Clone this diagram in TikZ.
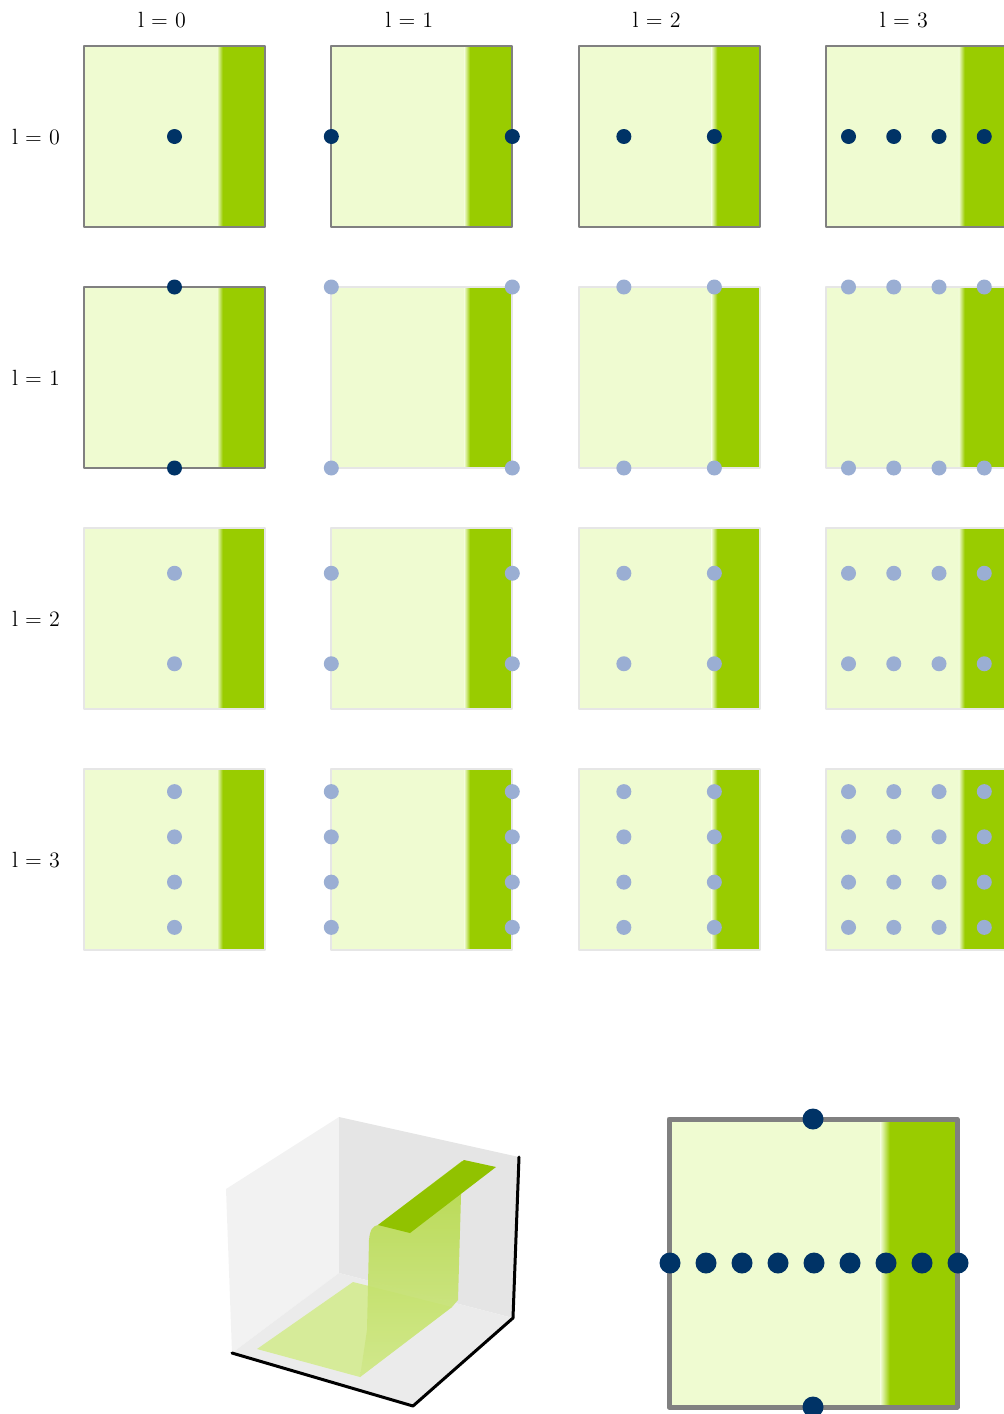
\documentclass[tikz,border=0pt]{standalone}
\definecolor{leafpale}{RGB}{239,251,209}
\definecolor{leafgreen}{RGB}{153,204,0}
\definecolor{navy}{RGB}{0,51,102}
\definecolor{haze}{RGB}{154,174,211}
\definecolor{rimdark}{RGB}{128,128,128}
\definecolor{rimpale}{RGB}{230,230,230}
\colorlet{rimcol}{rimdark}
\colorlet{ptcol}{navy}
% pale field with the green band on its right
\newcommand\leafsquare[3]{%
  \fill[leafpale] (#1,#2) rectangle ++(#3,#3);
  \fill[leafgreen] (#1+0.765*#3,#2) rectangle (#1+#3,#2+#3);
  \shade[left color=leafpale,right color=leafgreen] (#1+0.735*#3,#2) rectangle (#1+0.766*#3,#2+#3);
}
\begin{document}
\begin{tikzpicture}[x=0.5pt,y=-0.5pt,font=\fontsize{11}{13}\selectfont,line join=round,line cap=round,
  cellrim/.style={draw=rimcol,line width=1pt},
  gridpt/.style={fill=ptcol},
  bigpt/.style={fill=navy}]
\useasboundingbox (0,0) rectangle (1003,1414);
\foreach \k in {0,...,3}{
  \node (coll\k) at (162+247.3*\k,20) {l = \k};
  \node (rowl\k) at (36,137+241*\k) {l = \k};
}
\foreach \r/\ys in {0/{0.5},1/{0,1},2/{0.25,0.75},3/{0.125,0.375,0.625,0.875}}
\foreach \c/\xs in {0/{0.5},1/{0,1},2/{0.25,0.75},3/{0.125,0.375,0.625,0.875}}{
  \pgfmathsetmacro\sx{84+247.3*\c}
  \pgfmathsetmacro\sy{46+241*\r}
  \pgfmathtruncatemacro\hl{(\r==0)||((\r==1)&&(\c==0))}
  \ifnum\hl=1 \colorlet{rimcol}{rimdark}\colorlet{ptcol}{navy}%
  \else \colorlet{rimcol}{rimpale}\colorlet{ptcol}{haze}\fi
  \leafsquare{\sx}{\sy}{181}
  \draw[cellrim] (\sx,\sy) rectangle ++(181,181);
  \foreach \u in \xs
    \foreach \v in \ys
      \fill[gridpt] (\sx+181*\u,\sy+181*\v) circle[radius=3.75pt];
}
% 3d view of the step
\path
(226,1189) coordinate (PL)
(339,1117) coordinate (PT)
(339,1273) coordinate (PO)
(232,1353) coordinate (PF)
(519,1157) coordinate (PR)
(513,1318) coordinate (PB)
(413,1406) coordinate (PN)
;
\fill[black!5] (PL)--(PT)--(PO)--(PF)--cycle;
\fill[black!10] (PT)--(PR)--(PB)--(PO)--cycle;
\fill[black!8] (PF)--(PO)--(PB)--(PN)--cycle;
\fill[leafgreen!40!white] (257,1349)--(353,1282)--(452,1307)--(360,1377)--cycle;
\shade[top color=leafgreen!75!white,bottom color=leafgreen!45!white,opacity=0.9]
(360,1377)--(367,1330)--(369,1240) .. controls (370,1229) and (373,1226) .. (378,1225)
--(462,1161)--(458,1300)--(452,1307)--cycle;
\fill[leafgreen!95!black] (378,1225)--(464,1160)--(496,1167)--(410,1233)--cycle;
\draw[line width=1.5pt] (PF)--(PN)--(PB)--(PR);
% the 1d picture
\leafsquare{669}{1119}{288}
\draw[draw=rimdark,line width=2.5pt] (669,1119) rectangle (957,1407);
\foreach \k in {0,...,8}
  \fill[bigpt] (670+36*\k,1263) circle[radius=5.25pt];
\foreach \y in {1119,1407}
  \fill[bigpt] (813,\y) circle[radius=5.25pt];
\end{tikzpicture}
\end{document}
